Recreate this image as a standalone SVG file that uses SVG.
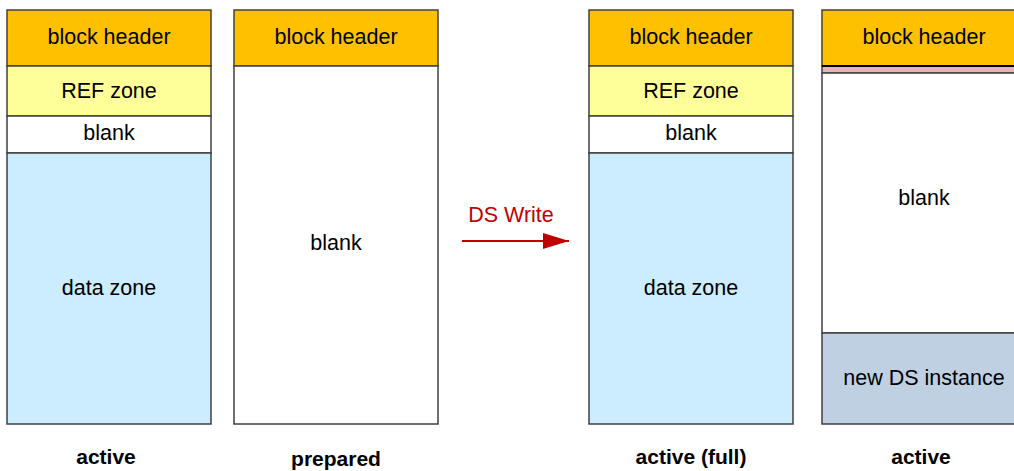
<svg xmlns="http://www.w3.org/2000/svg" width="1014" height="471" viewBox="0 0 1014 471">
<defs>
<style>
.box{stroke:#404040;stroke-width:1.5}
.hdr{fill:#FFC000}
.ref{fill:#FFFF99}
.blank{fill:#FFFFFF}
.data{fill:#CCECFF}
.nds{fill:#BFD0E2}
.pink{fill:#E6B4B4}
text{font-family:"Liberation Sans",Arial,sans-serif;font-size:21.5px;fill:#000;text-anchor:middle;dominant-baseline:central}
.lbl{font-weight:bold;font-size:21px}
.red{fill:#C00000}
</style>
<marker id="ah" markerWidth="26" markerHeight="16" refX="26" refY="8" orient="auto" markerUnits="userSpaceOnUse">
<path d="M0,0 L26,8 L0,16 Z" fill="#C00000"/>
</marker>
</defs>
<g id="col1">
<rect class="box hdr" x="7" y="10" width="204" height="56"/>
<rect class="box ref" x="7" y="66" width="204" height="50"/>
<rect class="box blank" x="7" y="116" width="204" height="37"/>
<rect class="box data" x="7" y="153" width="204" height="271"/>
<text x="109" y="37">block header</text>
<text x="109" y="91">REF zone</text>
<text x="109" y="133">blank</text>
<text x="109" y="288">data zone</text>
<text class="lbl" x="106" y="456">active</text>
</g>
<g id="col2">
<rect class="box hdr" x="234" y="10" width="204" height="56"/>
<rect class="box blank" x="234" y="66" width="204" height="358"/>
<text x="336" y="37">block header</text>
<text x="336" y="243">blank</text>
<text class="lbl" x="336" y="458">prepared</text>
</g>
<g id="col3">
<rect class="box hdr" x="589" y="10" width="204" height="56"/>
<rect class="box ref" x="589" y="66" width="204" height="50"/>
<rect class="box blank" x="589" y="116" width="204" height="37"/>
<rect class="box data" x="589" y="153" width="204" height="271"/>
<text x="691" y="37">block header</text>
<text x="691" y="91">REF zone</text>
<text x="691" y="133">blank</text>
<text x="691" y="288">data zone</text>
<text class="lbl" x="691" y="456">active (full)</text>
</g>
<g id="col4">
<rect class="box hdr" x="822" y="10" width="204" height="56"/>
<rect class="box pink" x="822" y="66" width="204" height="7"/>
<line x1="822" y1="66" x2="1026" y2="66" stroke="#000" stroke-width="2"/>
<rect class="box blank" x="822" y="73" width="204" height="260"/>
<rect class="box nds" x="822" y="333" width="204" height="91"/>
<text x="924" y="37">block header</text>
<text x="924" y="198">blank</text>
<text x="924" y="378">new DS instance</text>
<text class="lbl" x="921" y="456">active</text>
</g>
<g id="connectors">
<line x1="462" y1="241" x2="569" y2="241" stroke="#C00000" stroke-width="2" marker-end="url(#ah)"/>
<text class="red" x="511" y="215">DS Write</text>
</g>
</svg>
